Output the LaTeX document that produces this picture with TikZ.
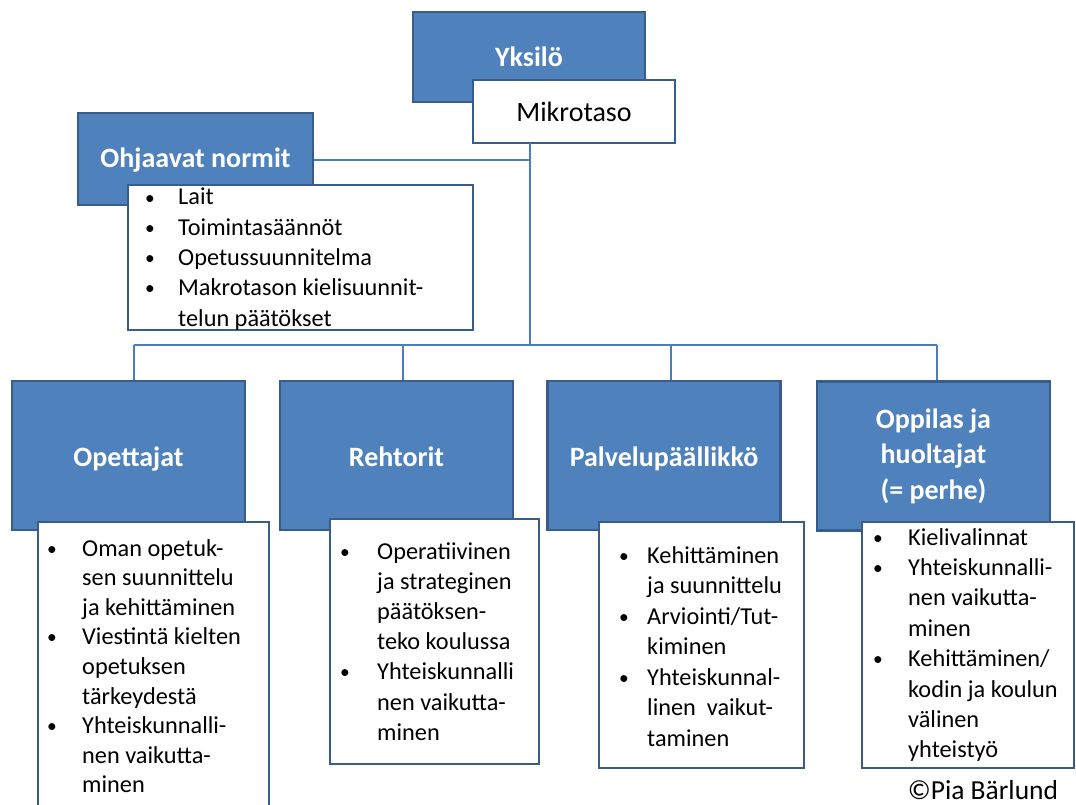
\documentclass[tikz,border=0pt]{standalone}
\usepackage{fontspec}
\setmainfont{Carlito}
\definecolor{boxblue}{HTML}{4F81BD}
\definecolor{edgeblue}{HTML}{385D8A}
\definecolor{linkblue}{HTML}{4A7EBB}
% bullet list: one row per printed line, bullet rows marked with \itm
\newcommand{\itm}{\raisebox{0.04em}{\scalebox{0.8}{\textbullet}}}
\newenvironment{blist}[2]{\fontsize{24.3}{#2}\selectfont\begin{tabular}[t]{@{}p{#1}@{}l@{}}}{\end{tabular}}
\tikzset{
  headbox/.style={draw=edgeblue, line width=2.4pt, fill=boxblue, text=white,
    font=\fontsize{28}{35.5}\selectfont\bfseries, align=center, inner sep=0pt},
  headtext/.style={text height=24pt, text depth=2pt},
  notebox/.style={draw=edgeblue, line width=2.4pt, fill=white, inner sep=0pt},
  listtext/.style={anchor=base west, inner sep=0pt},
  link/.style={draw=linkblue, line width=2.6pt}
}
\begin{document}
\begin{tikzpicture}[x=1pt, y=-1pt]
\useasboundingbox (0,0) rectangle (1076,805);
\clip (0,0) rectangle (1076,805);
\fill[white] (0,0) rectangle (1076,805);

% branching points of the connectors
\coordinate (hub) at (530,345);
\coordinate (top) at (530,143);
\coordinate (normj) at (530,160);
\coordinate (b1) at (134,345);
\coordinate (b2) at (403,345);
\coordinate (b3) at (671,345);
\coordinate (b4) at (937,345);

% top of the tree
\node[headbox, minimum width=232pt, minimum height=90pt] (yks) at (529,57) {};
\node[text=white, font=\fontsize{28}{35}\selectfont\bfseries, inner sep=0pt] (ykst) at (529,57) {Yksilö};
\node[notebox, minimum width=202pt, minimum height=63pt, font=\fontsize{28}{35}\selectfont] (mikro) at (574,111.5) {Mikrotaso};

\node[headbox, minimum width=235pt, minimum height=92pt] (norm) at (195.5,159) {};
\node[text=white, font=\fontsize{28}{35}\selectfont\bfseries, inner sep=0pt] (normt) at (195.5,160) {Ohjaavat normit};

\draw[link] (top) -- (hub);
\draw[link] (norm.east |- normj) -- (normj);
\draw[link] (b1) -- (b4);

\node[notebox, minimum width=345pt, minimum height=145pt] (normlist) at (300.5,257.5) {};
\node[listtext] (normitems) at (145,205) {\begin{blist}{33pt}{30.3pt}
\itm & Lait\\
\itm & Toimintasäännöt\\
\itm & Opetussuunnitelma\\
\itm & Makrotason kielisuunnit-\\
     & telun päätökset
\end{blist}};

% second level
\node[headbox, headtext, minimum width=233pt, minimum height=149pt] (ope) at (128.5,455.5) {Opettajat};
\node[headbox, headtext, minimum width=233pt, minimum height=149pt] (reh) at (396.5,455.5) {Rehtorit};
\node[headbox, headtext, minimum width=233pt, minimum height=149pt] (pal) at (664,455.5) {Palvelupäällikkö};
\node[headbox, minimum width=233pt, minimum height=149pt] (opp) at (933.5,456) {Oppilas ja\\ huoltajat\\ (= perhe)};

\draw[link] (b1) -- (b1 |- ope.north);
\draw[link] (b2) -- (b2 |- reh.north);
\draw[link] (b3) -- (b3 |- pal.north);
\draw[link] (b4) -- (b4 |- opp.north);

% lists under the second level
\node[notebox, minimum width=231pt, minimum height=300pt, anchor=north west] (opelist) at (37,521) {};
\node[listtext] (opeitems) at (47,556) {\begin{blist}{35pt}{29.6pt}
\itm & Oman opetuk-\\
     & sen suunnittelu\\
     & ja kehittäminen\\
\itm & Viestintä kielten\\
     & opetuksen\\
     & tärkeydestä\\
\itm & Yhteiskunnalli-\\
     & nen vaikutta-\\
     & minen
\end{blist}};

\node[notebox, minimum width=209pt, minimum height=245pt, anchor=north west] (rehlist) at (329,518) {};
\node[listtext] (rehitems) at (340,559) {\begin{blist}{37pt}{30.2pt}
\itm & Operatiivinen\\
     & ja strateginen\\
     & päätöksen-\\
     & teko koulussa\\
\itm & Yhteiskunnalli\\
     & nen vaikutta-\\
     & minen
\end{blist}};

\node[notebox, minimum width=205pt, minimum height=246pt, anchor=north west] (pallist) at (598,521) {};
\node[listtext] (palitems) at (619,563) {\begin{blist}{28pt}{30.5pt}
\itm & Kehittäminen\\
     & ja suunnittelu\\
\itm & Arviointi/Tut-\\
     & kiminen\\
\itm & Yhteiskunnal-\\
     & linen\ \ vaikut-\\
     & taminen
\end{blist}};

\node[notebox, minimum width=212pt, minimum height=246pt, anchor=north west] (opplist) at (861,521) {};
\node[listtext] (oppitems) at (873,545) {\begin{blist}{35pt}{30.4pt}
\itm & Kielivalinnat\\
\itm & Yhteiskunnalli-\\
     & nen vaikutta-\\
     & minen\\
\itm & Kehittäminen/\\
     & kodin ja koulun\\
     & välinen\\
     & yhteistyö
\end{blist}};

\node[font=\fontsize{27.5}{31}\selectfont, inner sep=0pt] (copy) at (983,790) {©Pia Bärlund};
\end{tikzpicture}
\end{document}
